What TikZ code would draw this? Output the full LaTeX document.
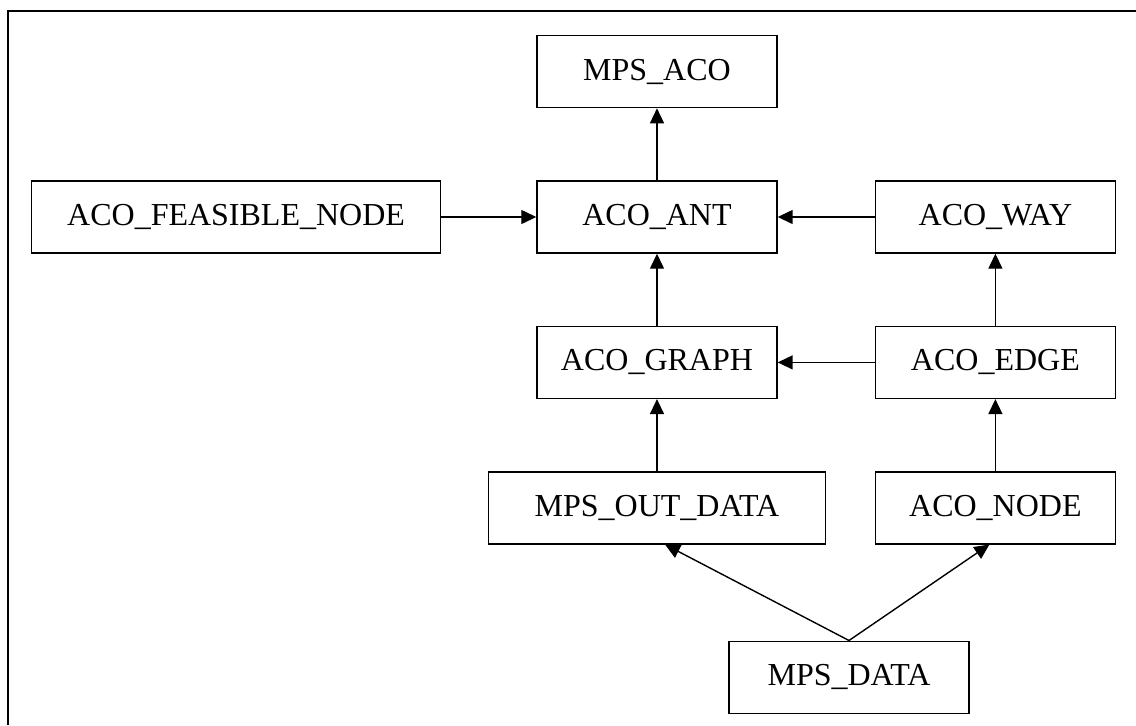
\documentclass[tikz,border=0pt]{standalone}
\usepackage{fontspec}
\setmainfont{Liberation Serif}
\usepackage{tikz}
\usetikzlibrary{arrows.meta,positioning,calc}

\begin{document}
\begin{tikzpicture}[
        node distance=36pt,
        block/.style={rectangle, draw, line width=0.7pt, minimum width=120pt, minimum height=36pt, inner sep=0pt, font=\fontsize{16}{19}\selectfont},
        arrow/.style={-{Triangle[length=7.5pt,width=7pt]}, line width=0.7pt}
      ]
        % Bounding box and frame
        \useasboundingbox (-328.5pt,108.5pt) rectangle (239.5pt,-254pt);
        \coordinate (frametop) at (239.5pt,103pt);
        \coordinate (framecorner) at (-324.5pt,103pt);
        \coordinate (framebottom) at (-324.5pt,-254pt);
        \draw[line width=1.1pt] (frametop) -- (framecorner) -- (framebottom);

        % Middle row
        \node[block] (ant) at (0,0) {ACO\_ANT};
        \node[block, minimum width=204.5pt, left=47.5pt of ant] (feasible) {ACO\_FEASIBLE\_NODE};
        \node[block, right=48.5pt of ant] (way) {ACO\_WAY};

        % Top
        \node[block, above=of ant] (mpsaco) {MPS\_ACO};

        % Graph and edge
        \node[block, below=of ant] (graph) {ACO\_GRAPH};
        \node[block, below=of way] (edge) {ACO\_EDGE};

        % Data
        \node[block, minimum width=168.5pt, below=of graph] (outdata) {MPS\_OUT\_DATA};
        \node[block, below=of edge] (acnode) {ACO\_NODE};
        \node[block, below=48pt of outdata, xshift=96pt] (mpsdata) {MPS\_DATA};

        % Arrows
        \draw[arrow] (ant) -- (mpsaco);
        \draw[arrow] (feasible) -- (ant);
        \draw[arrow] (way) -- (ant);
        \draw[arrow] (graph) -- (ant);
        \draw[arrow] (edge) -- (graph);
        \draw[arrow] (edge) -- (way);
        \draw[arrow] (outdata) -- (graph);
        \draw[arrow] (acnode) -- (edge);
        \draw[arrow] (mpsdata.north) -- ([xshift=4pt]outdata.south);
        \draw[arrow] (mpsdata.north) -- ([xshift=-3pt]acnode.south);
      \end{tikzpicture}
\end{document}
